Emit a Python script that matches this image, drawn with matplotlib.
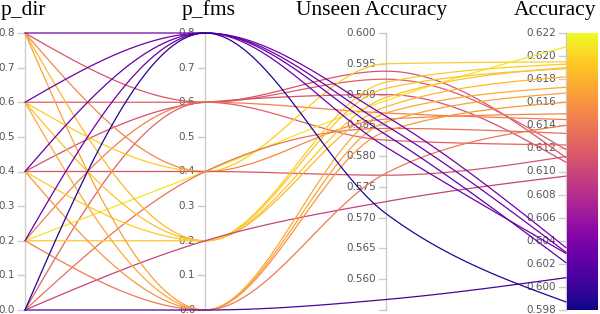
import matplotlib
matplotlib.use('Agg')
import matplotlib.pyplot as plt
import numpy as np

# one entry per run: the two hyper-parameters and the two scores
p_dir = [0.8, 0.6, 0.4, 0.2, 0.0,
         0.8, 0.6, 0.4, 0.2, 0.0,
         0.8, 0.6, 0.4, 0.2, 0.0,
         0.8, 0.6, 0.4, 0.2, 0.0,
         0.8, 0.6, 0.4, 0.2, 0.0]
p_fms = [0.6, 0.6, 0.6, 0.6, 0.6,
         0.4, 0.4, 0.4, 0.4, 0.4,
         0.2, 0.2, 0.2, 0.2, 0.2,
         0.0, 0.0, 0.0, 0.0, 0.0,
         0.8, 0.8, 0.8, 0.8, 0.8]
unseen_acc = [0.5938, 0.5925, 0.5900, 0.5870, 0.5826,
              0.5860, 0.5950, 0.5769, 0.5890, 0.5845,
              0.5880, 0.5910, 0.5920, 0.5895, 0.5726,
              0.5855, 0.5870, 0.5840, 0.5772, 0.5567,
              0.5865, 0.5850, 0.5835, 0.5815, 0.5707]
accuracy = [0.6112, 0.6119, 0.6108, 0.6145, 0.6123,
            0.6150, 0.6195, 0.6113, 0.6208, 0.6133,
            0.6182, 0.6189, 0.6193, 0.6190, 0.6096,
            0.6168, 0.6173, 0.6160, 0.6140, 0.6008,
            0.6034, 0.6030, 0.6021, 0.6029, 0.5987]

titles = ['p_dir', 'p_fms', 'Unseen Accuracy', 'Accuracy']
ranges = [(0.0, 0.8), (0.0, 0.8), (0.555, 0.600), (0.598, 0.622)]
tick_values = [np.arange(0, 9) / 10, np.arange(0, 9) / 10,
               np.arange(112, 121) / 200, np.arange(299, 312) / 500]
tick_fmt = ['%.1f', '%.1f', '%.3f', '%.3f']
# title centres in pixels (the titles are not centred on the axes)
title_x = [23.5, 208.5, 372, 555]

W, H = 600, 314
fig = plt.figure(figsize=(6, 3.14), dpi=100)
ax = fig.add_axes([25 / W, 4 / H, 541 / W, 277 / H])
ax.set_xlim(0, 3)
ax.set_ylim(0, 1)
ax.axis('off')

px = 3 / 541.0  # one pixel in x data units


def monotone_curve(xs, ys, n=40):
    # d3 curveMonotoneX, evaluated as cubic hermite segments
    xs = np.asarray(xs, float)
    ys = np.asarray(ys, float)
    k = len(xs)
    h = np.diff(xs)
    s = np.diff(ys) / h
    t = np.zeros(k)
    for i in range(1, k - 1):
        p = (s[i - 1] * h[i] + s[i] * h[i - 1]) / (h[i - 1] + h[i])
        t[i] = (np.sign(s[i - 1]) + np.sign(s[i])) * min(abs(s[i - 1]), abs(s[i]), 0.5 * abs(p))
    t[0] = (3 * s[0] - t[1]) / 2
    t[-1] = (3 * s[-1] - t[-2]) / 2
    out_x, out_y = [], []
    for i in range(k - 1):
        u = np.linspace(0, 1, n)
        h00 = 2 * u**3 - 3 * u**2 + 1
        h10 = u**3 - 2 * u**2 + u
        h01 = -2 * u**3 + 3 * u**2
        h11 = u**3 - u**2
        yy = h00 * ys[i] + h10 * h[i] * t[i] + h01 * ys[i + 1] + h11 * h[i] * t[i + 1]
        out_x.extend(xs[i] + u * h[i])
        out_y.extend(yy)
    return out_x, out_y


cmap = plt.get_cmap('plasma')
norm = plt.Normalize(*ranges[3])

# axis lines, ticks and tick labels
for i in range(4):
    lo, hi = ranges[i]
    ax.plot([i, i], [0, 1], color='#cccccc', lw=1, zorder=1, clip_on=False)
    for v in tick_values[i]:
        y = (v - lo) / (hi - lo)
        ax.plot([i - 7 * px, i], [y, y], color='#cccccc', lw=1, zorder=1, clip_on=False)
        ax.text(i - 10 * px, y, tick_fmt[i] % v, ha='right', va='center',
                fontsize=7.5, color='#555555', zorder=1, clip_on=False)
    # unlabelled tick at the bottom of the unseen accuracy axis
    if i == 2:
        ax.plot([i - 7 * px, i], [0, 0], color='#cccccc', lw=1, zorder=1, clip_on=False)

# one curve per run, coloured by accuracy
cols = [p_dir, p_fms, unseen_acc, accuracy]
for r in range(len(accuracy)):
    ys = [(cols[i][r] - ranges[i][0]) / (ranges[i][1] - ranges[i][0]) for i in range(4)]
    cx, cy = monotone_curve([0, 1, 2, 3], ys)
    ax.plot(cx, cy, color=cmap(norm(accuracy[r])), lw=0.9, zorder=2,
            clip_on=False, solid_capstyle='round')

# colour bar next to the accuracy axis
cax = fig.add_axes([567 / W, 4 / H, 31 / W, 277 / H])
cax.imshow(np.linspace(1, 0, 256).reshape(-1, 1), aspect='auto', cmap='plasma')
cax.axis('off')

for i in range(4):
    fig.text(title_x[i] / W, 1 - 15.5 / H, titles[i], ha='center', va='baseline',
             fontsize=15.5, family='Liberation Serif', color='black')

plt.savefig('out.png', dpi=100)
